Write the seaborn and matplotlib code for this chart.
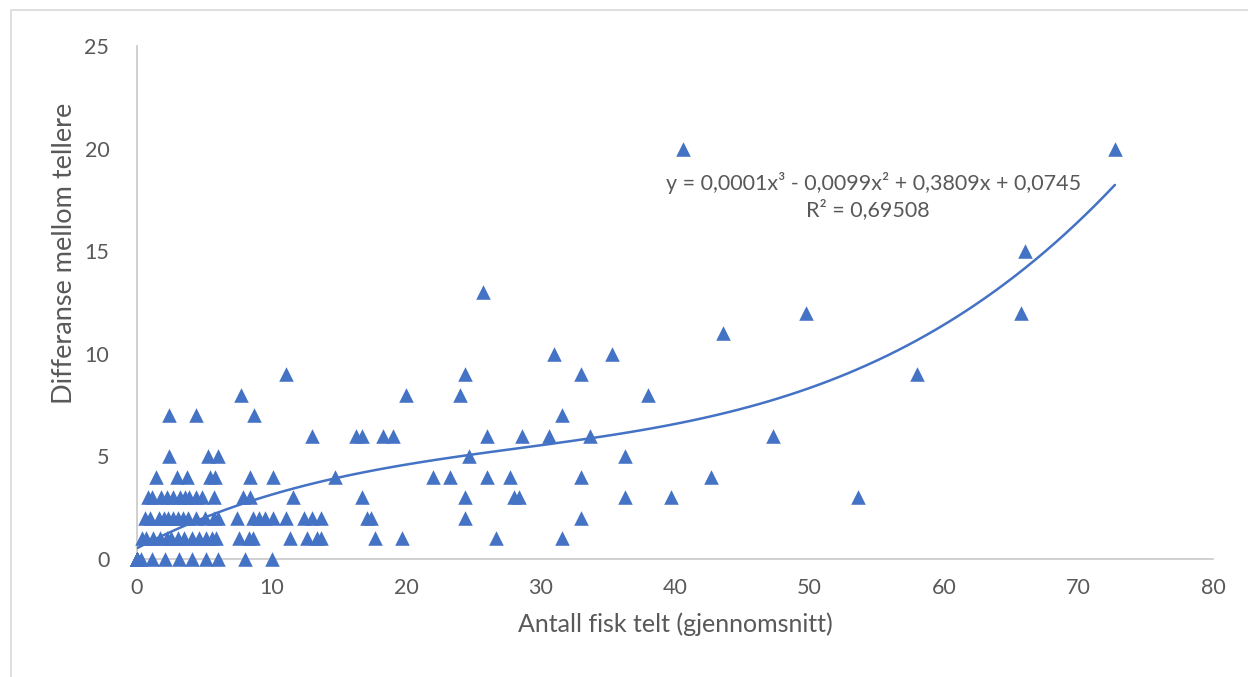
import matplotlib
matplotlib.use("Agg")
import matplotlib.pyplot as plt
import pandas as pd
import seaborn as sns
from matplotlib.patches import Rectangle

# data, one line per y level
# (many counts of 0 fish with 0 difference lie on top of each other at the origin)
null_punkter = 50
antall = [0] * null_punkter + [0.3, 1.1, 2.1, 3.1, 4.1, 5.1, 6.0, 8.0, 10.0,
          0.35, 0.7, 1.2, 1.7, 2.2, 2.5, 3.05, 3.5, 4.1, 4.6, 5.1, 5.6, 5.9, 7.6, 8.3, 8.65,
          11.4, 12.6, 13.4, 13.7, 17.7, 19.7, 26.7, 31.6,
          0.6, 0.95, 1.6, 2.0, 2.3, 2.7, 3.05, 3.4, 3.8, 4.4, 5.05, 5.7, 6.05, 7.4, 8.65,
          9.1, 9.5, 10.1, 11.05, 12.4, 13.0, 13.7, 17.1, 17.4, 24.4, 33.0,
          0.85, 1.1, 1.8, 2.2, 2.7, 3.2, 3.6, 3.9, 4.4, 4.8, 5.7, 7.9, 8.4, 11.6, 16.7,
          24.4, 28.0, 28.4, 36.3, 39.7, 53.6,
          1.4, 3.0, 3.7, 5.4, 5.8, 8.4, 10.1, 14.7, 22.0, 23.3, 26.0, 27.7, 33.0, 42.7,
          2.4, 5.3, 6.05, 24.7, 36.3,
          13.0, 16.3, 16.7, 18.3, 19.05, 26.05, 28.6, 30.6, 33.7, 47.3,
          2.4, 4.4, 8.7, 31.6,
          7.7, 20.0, 24.0, 38.0,
          11.1, 24.4, 33.0, 58.0,
          31.0, 35.3,
          43.6,
          49.7, 65.7,
          25.7,
          66.0,
          40.6, 72.7]
differanse = [0] * (null_punkter + 9) + [1] * 24 + [2] * 26 + [3] * 21 + [4] * 14 + [5] * 5 \
    + [6] * 10 + [7] * 4 + [8] * 4 + [9] * 4 + [10] * 2 + [11] + [12] * 2 + [13] + [15] + [20] * 2

x_ticks = [0, 10, 20, 30, 40, 50, 60, 70, 80]
y_ticks = [0, 5, 10, 15, 20, 25]
likning = "y = 0,0001x³ - 0,0099x² + 0,3809x + 0,0745"
r2_tekst = "R² = 0,69508"

df = pd.DataFrame({"x": antall, "y": differanse})

sns.set_style("white")
plt.rcParams['font.family'] = ['Lato', 'DejaVu Sans']
blue = "#4472C4"
grey = "#595959"

fig = plt.figure(figsize=(12.48, 6.77), dpi=100)
ax = fig.add_axes([0.1098, 0.1743, 0.8622, 0.7577])

sns.regplot(data=df, x="x", y="y", order=3, ci=None, ax=ax,
            marker="^", color=blue,
            scatter_kws={"s": 110, "alpha": 1, "linewidths": 0, "zorder": 3, "clip_on": False},
            line_kws={"lw": 1.8, "zorder": 4})

ax.set_xlim(0, 80)
ax.set_ylim(0, 25)
ax.set_xticks(x_ticks)
ax.set_yticks(y_ticks)
ax.tick_params(length=0, labelsize=15.5, colors=grey)
ax.tick_params(axis="x", pad=14)
ax.tick_params(axis="y", pad=20)
ax.set_xlabel("Antall fisk telt (gjennomsnitt)", fontsize=18, color=grey, labelpad=10)
ax.set_ylabel("Differanse mellom tellere", fontsize=19.5, color=grey)
ax.yaxis.set_label_coords(-0.056, 0.595)

for s in ["top", "right"]:
    ax.spines[s].set_visible(False)
for s in ["left", "bottom"]:
    ax.spines[s].set_color("#C8C8C8")
    ax.spines[s].set_linewidth(1.2)

ax.text(0.70, 0.73, likning, transform=fig.transFigure, fontsize=15.5, color=grey,
        ha="center", va="center")
ax.text(0.695, 0.69, r2_tekst, transform=fig.transFigure, fontsize=15.5, color=grey,
        ha="center", va="center")

fig.patches.append(Rectangle((0.009, -0.01), 1.0, 0.995, transform=fig.transFigure,
                             fill=False, edgecolor="#D9D9D9", lw=1.2))

fig.savefig("out.png", dpi=100)
